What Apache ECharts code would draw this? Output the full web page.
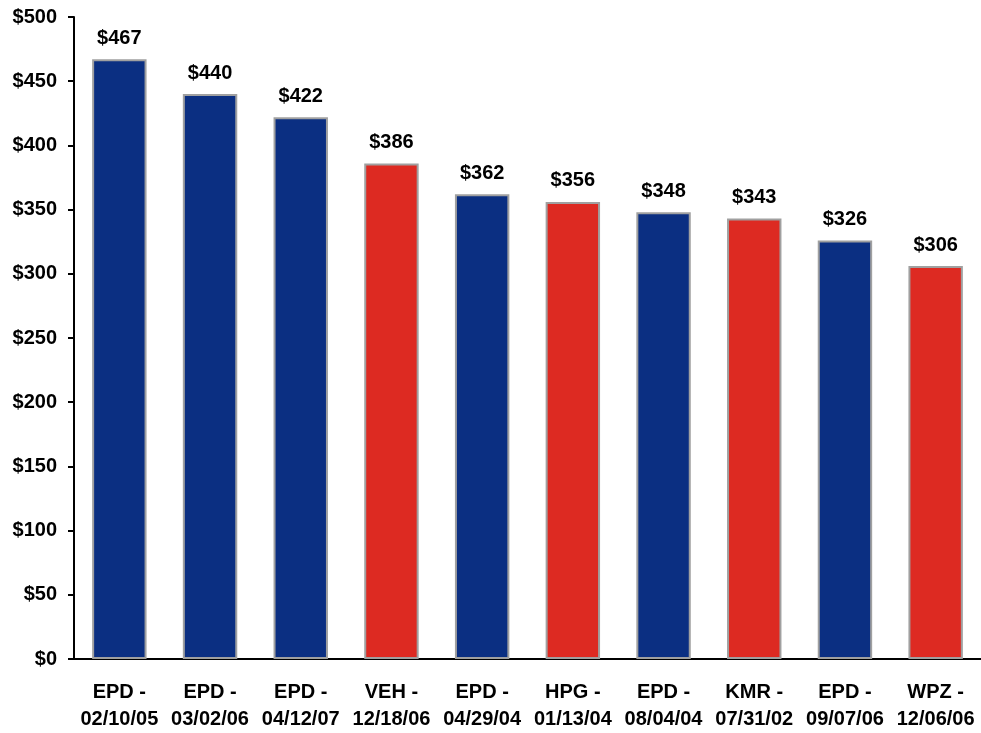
<!DOCTYPE html>
<html>
<head>
<meta charset="utf-8">
<script src="https://cdn.jsdelivr.net/npm/echarts@6/dist/echarts.min.js"></script>
<style>
  html, body { margin: 0; padding: 0; background: #fff; }
  #chart { width: 981px; height: 733px; }
</style>
</head>
<body>
<div id="chart"></div>
<script>
// data
const categories = ["EPD -\n02/10/05", "EPD -\n03/02/06", "EPD -\n04/12/07", "VEH -\n12/18/06", "EPD -\n04/29/04",
  "HPG -\n01/13/04", "EPD -\n08/04/04", "KMR -\n07/31/02", "EPD -\n09/07/06", "WPZ -\n12/06/06"];
const values = [467, 440, 422, 386, 362, 356, 348, 343, 326, 306];
const isRed = [false, false, false, true, false, true, false, true, false, true];

const BLUE = "#0b2f82";
const RED = "#dd2a22";

let chart = echarts.init(document.getElementById("chart"));
let option = {
  animation: false,
  grid: { left: 74, right: 0, top: 17, bottom: 74 },
  xAxis: {
    type: "category",
    data: categories,
    axisLine: { lineStyle: { color: "#000", width: 2 } },
    axisTick: { show: false },
    axisLabel: {
      color: "#000",
      fontFamily: "Arial",
      fontWeight: "bold",
      fontSize: 20,
      lineHeight: 27,
      margin: 20,
      interval: 0
    }
  },
  yAxis: {
    type: "value",
    min: 0,
    max: 500,
    interval: 50,
    axisLine: { show: true, lineStyle: { color: "#000", width: 2 } },
    axisTick: { show: true, length: 6, lineStyle: { color: "#000", width: 2 } },
    splitLine: { show: false },
    axisLabel: {
      color: "#000",
      fontFamily: "Arial",
      fontWeight: "bold",
      fontSize: 20,
      margin: 17,
      formatter: v => "$" + v
    }
  },
  series: [{
    type: "bar",
    barWidth: "60%",
    data: values.map((v, i) => ({
      value: v,
      itemStyle: { color: isRed[i] ? RED : BLUE }
    })),
    itemStyle: { borderColor: "#a0a0a0", borderWidth: 2 },
    label: {
      show: true,
      position: "top",
      distance: 11,
      color: "#000",
      fontFamily: "Arial",
      fontWeight: "bold",
      fontSize: 20,
      formatter: p => "$" + p.value
    }
  }]
};
chart.setOption(option);
</script>
</body>
</html>
